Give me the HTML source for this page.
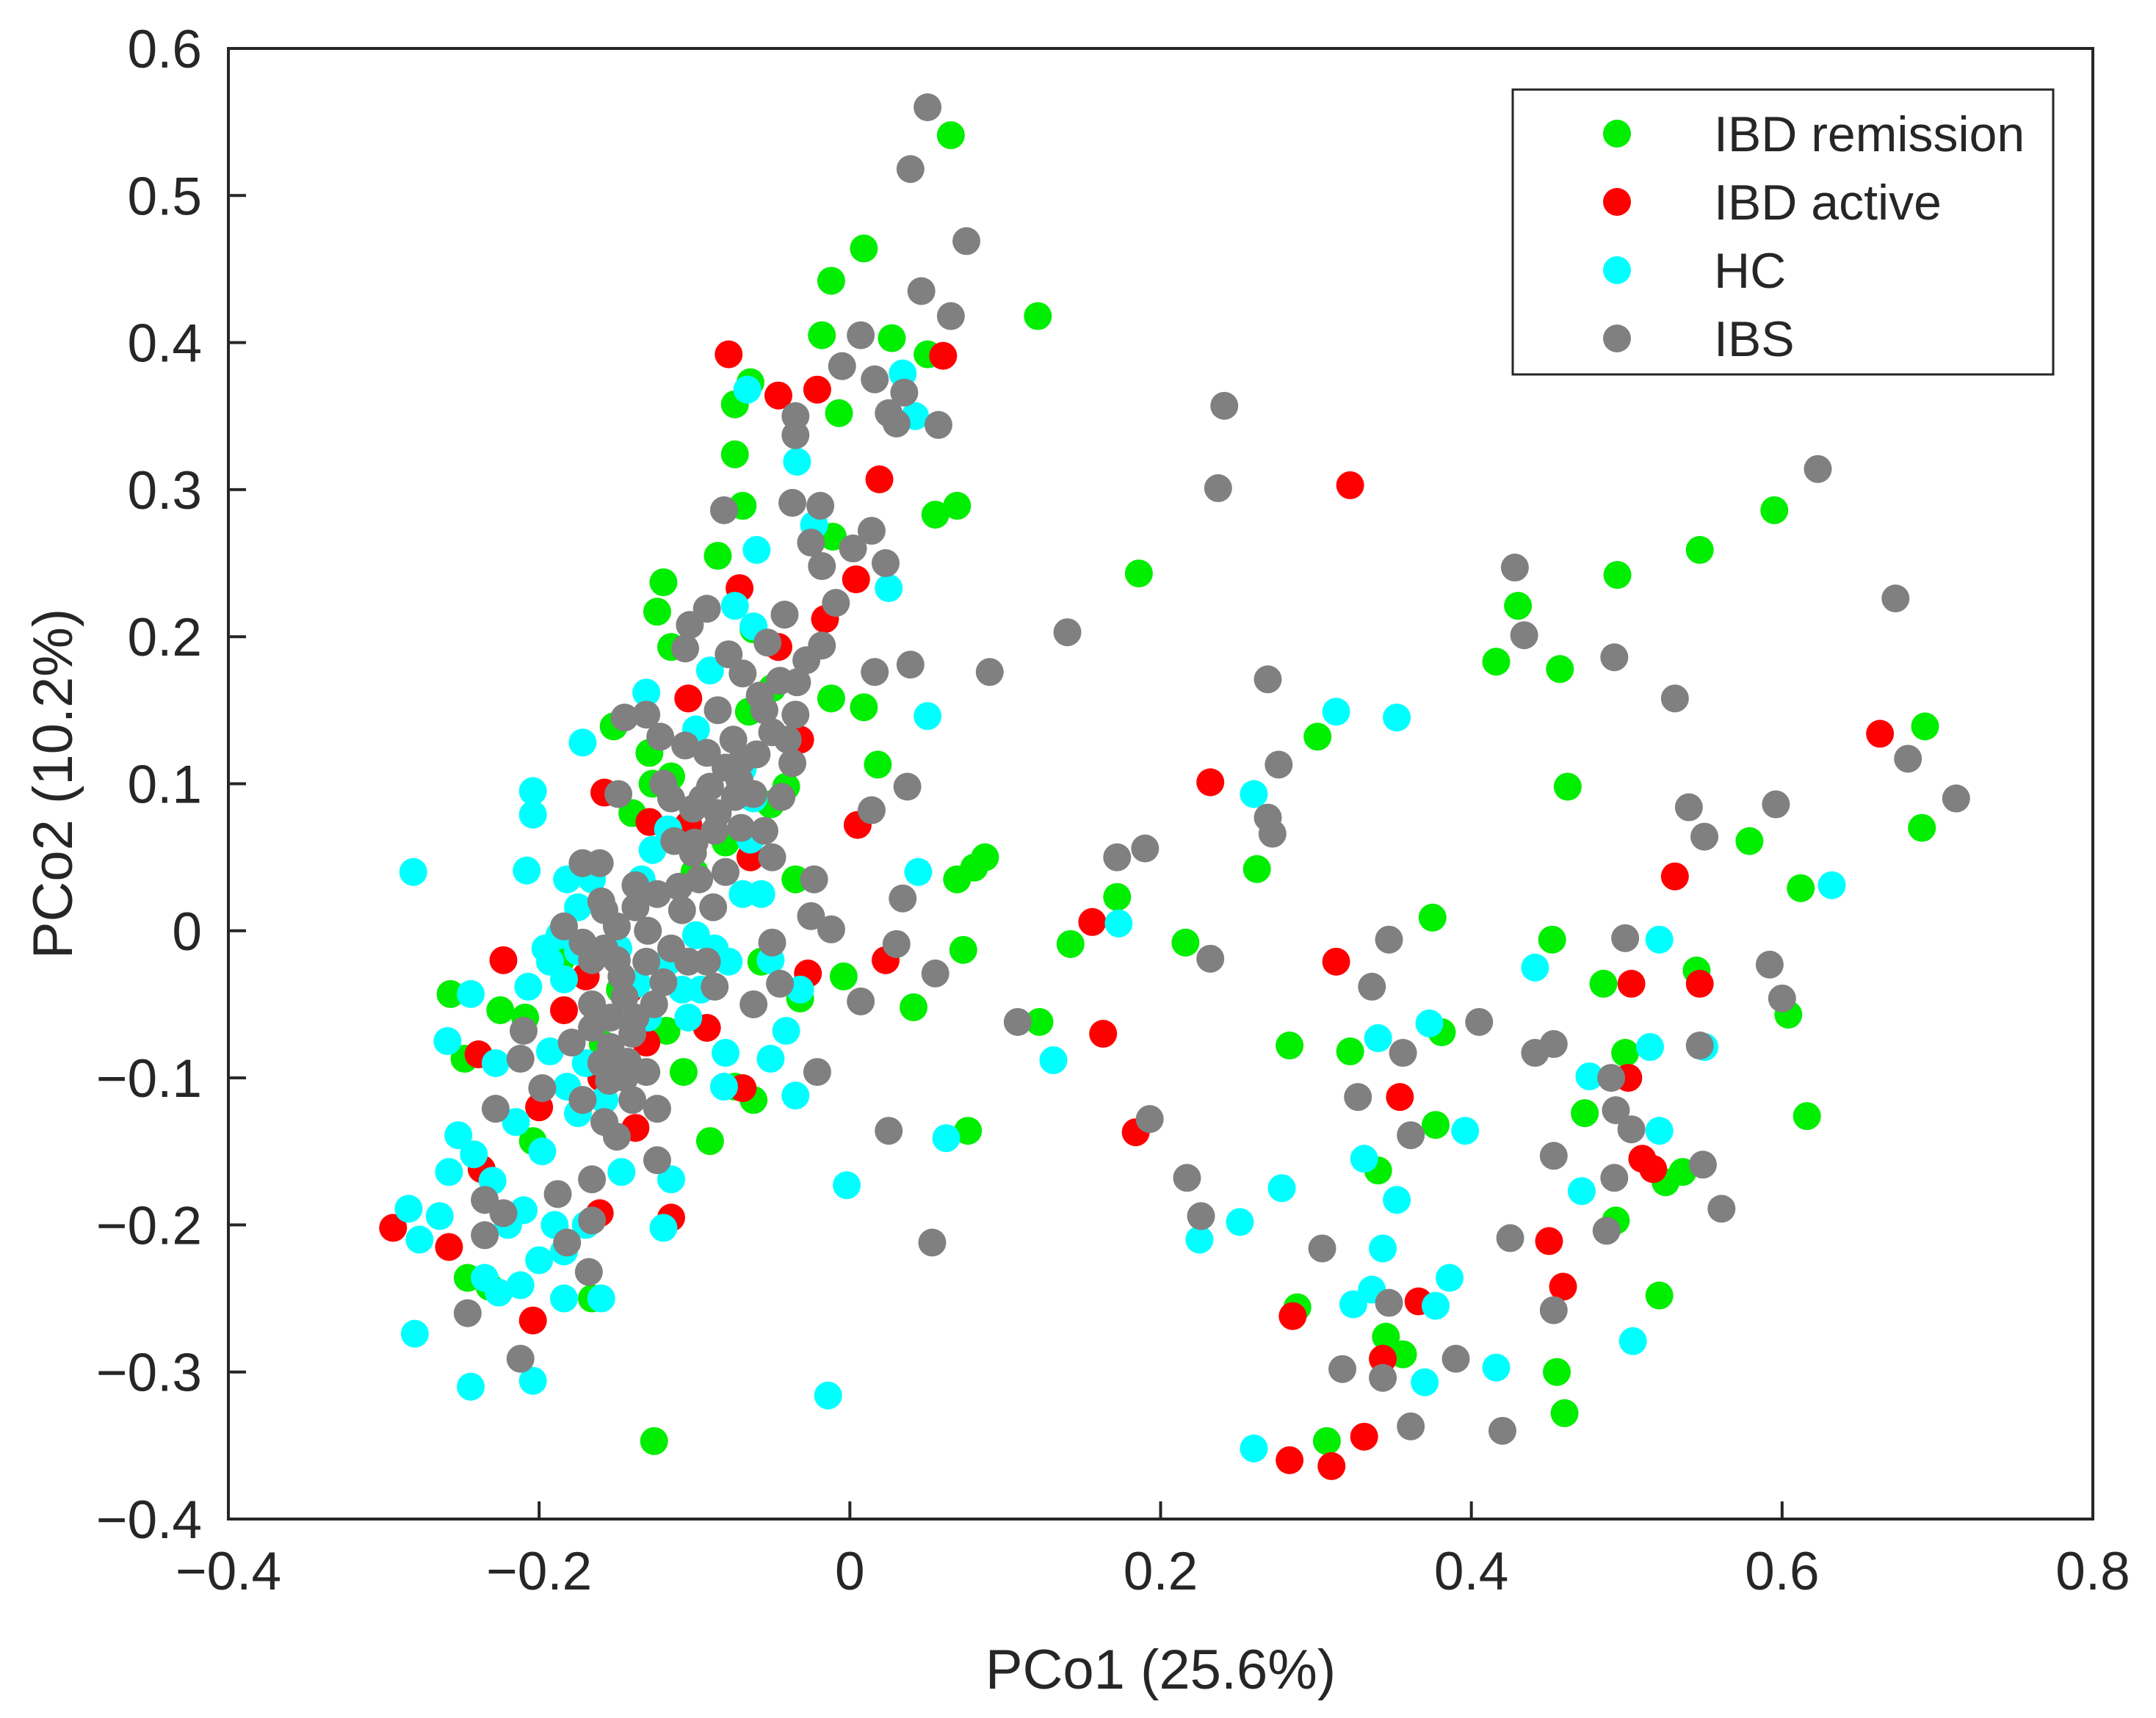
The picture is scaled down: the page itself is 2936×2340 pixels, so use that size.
<!DOCTYPE html>
<html><head><meta charset="utf-8"><style>
html,body{margin:0;padding:0;background:#fff;}
svg{display:block;font-family:"Liberation Sans",Arial,sans-serif;}
</style></head><body>
<svg id="chart" width="2936" height="2340" viewBox="0 0 2936 2340" xmlns="http://www.w3.org/2000/svg">
<rect x="0" y="0" width="2936" height="2340" fill="#fff"/>
<g id="marks"></g>
<g id="axes"></g>
</svg>
<script>
const xTicks = [-0.4,-0.2,0,0.2,0.4,0.6,0.8];
const yTicks = [-0.4,-0.3,-0.2,-0.1,0,0.1,0.2,0.3,0.4,0.5,0.6];
const xTickLabels = ["\u22120.4","\u22120.2","0","0.2","0.4","0.6","0.8"];
const yTickLabels = ["\u22120.4","\u22120.3","\u22120.2","\u22120.1","0","0.1","0.2","0.3","0.4","0.5","0.6"];
const seriesNames = ["IBD remission","IBD active","HC","IBS"];
const seriesColors = ["#00ee00","#ff0000","#00ffff","#808080"];

const remission = [[0.065,0.541],[0.009,0.464],[-0.012,0.442],[-0.018,0.405],[0.027,0.403],[0.05,0.392],[-0.007,0.352],[0.121,0.418],[-0.074,0.358],[-0.064,0.373],[-0.074,0.324],[-0.069,0.289],[0.069,0.289],[0.055,0.283],[-0.085,0.255],[-0.12,0.237],[-0.124,0.217],[-0.011,0.268],[-0.012,0.158],[0.009,0.152],[0.018,0.113],[-0.115,0.193],[0.186,0.243],[0.122,-0.062],[0.142,-0.009],[0.172,0.023],[0.216,-0.008],[0.262,0.042],[0.301,0.132],[0.283,-0.078],[0.087,0.05],[0.08,0.043],[0.069,0.035],[0.073,-0.013],[0.041,-0.052],[-0.004,-0.031],[0.076,-0.136],[-0.09,-0.143],[-0.126,-0.347],[0.375,0.009],[0.381,-0.069],[0.322,-0.082],[0.34,-0.163],[0.377,-0.132],[0.288,-0.256],[0.345,-0.276],[0.356,-0.288],[0.307,-0.347],[0.43,0.221],[0.416,0.183],[0.457,0.178],[0.462,0.098],[0.494,0.242],[0.547,0.259],[0.595,0.286],[0.579,0.061],[0.612,0.029],[0.604,-0.057],[0.616,-0.126],[0.692,0.139],[0.69,0.07],[0.452,-0.006],[0.485,-0.036],[0.499,-0.083],[0.473,-0.124],[0.493,-0.197],[0.545,-0.027],[0.536,-0.164],[0.525,-0.171],[0.521,-0.248],[0.455,-0.3],[0.46,-0.328],[-0.257,-0.043],[-0.248,-0.087],[-0.225,-0.054],[-0.209,-0.059],[-0.204,-0.143],[-0.246,-0.236],[-0.232,-0.242],[-0.166,-0.25],[-0.152,0.139],[-0.129,0.121],[-0.127,0.1],[-0.115,0.105],[-0.062,-0.115],[-0.074,-0.106],[-0.065,0.149],[-0.05,0.165],[-0.041,0.098],[-0.035,0.035],[-0.032,-0.046],[-0.057,-0.021],[-0.148,-0.04],[-0.186,-0.02],[-0.159,-0.077],[-0.118,-0.068],[-0.107,-0.096],[-0.051,0.086],[-0.062,0.205],[-0.14,0.08],[-0.1,0.04],[-0.08,0.06]];

const active = [[-0.078,0.392],[-0.046,0.364],[-0.021,0.368],[0.06,0.391],[0.019,0.307],[-0.071,0.233],[-0.016,0.212],[0.004,0.239],[-0.046,0.193],[-0.032,0.13],[-0.104,0.158],[0.005,0.072],[-0.064,0.05],[-0.092,-0.066],[-0.069,-0.107],[-0.027,-0.029],[0.023,-0.02],[-0.158,0.094],[-0.129,0.074],[-0.104,0.072],[-0.223,-0.02],[-0.239,-0.084],[-0.237,-0.162],[-0.294,-0.202],[-0.258,-0.215],[-0.204,-0.265],[-0.184,-0.054],[-0.161,-0.192],[-0.115,-0.195],[-0.138,-0.134],[0.232,0.101],[0.156,0.006],[0.163,-0.07],[0.184,-0.137],[0.322,0.303],[0.313,-0.021],[0.354,-0.113],[0.285,-0.262],[0.366,-0.252],[0.343,-0.291],[0.331,-0.344],[0.31,-0.364],[0.283,-0.36],[0.45,-0.211],[0.459,-0.242],[0.501,-0.1],[0.503,-0.036],[0.51,-0.155],[0.517,-0.162],[0.531,0.037],[0.547,-0.036],[0.663,0.134],[-0.17,-0.031],[-0.142,-0.04],[-0.131,-0.076],[-0.2,-0.12],[-0.16,-0.1]];

const hc = [[-0.281,0.04],[-0.204,0.095],[-0.204,0.079],[-0.208,0.041],[-0.172,0.128],[-0.131,0.162],[-0.066,0.368],[-0.06,0.259],[-0.034,0.319],[-0.023,0.276],[0.034,0.379],[0.042,0.35],[0.025,0.233],[0.05,0.146],[0.044,0.04],[-0.002,-0.173],[-0.014,-0.316],[0.062,-0.141],[0.131,-0.088],[0.173,0.005],[0.26,0.093],[0.225,-0.21],[0.251,-0.198],[0.278,-0.175],[0.26,-0.352],[0.313,0.149],[0.352,0.145],[0.331,-0.155],[0.324,-0.254],[0.34,-0.073],[0.352,-0.183],[0.343,-0.216],[0.336,-0.244],[0.37,-0.307],[0.373,-0.063],[0.396,-0.136],[0.386,-0.236],[0.377,-0.255],[0.416,-0.297],[0.441,-0.025],[0.476,-0.099],[0.471,-0.177],[0.504,-0.279],[0.515,-0.079],[0.521,-0.006],[0.521,-0.136],[0.55,-0.079],[0.632,0.031],[-0.284,-0.189],[-0.28,-0.274],[-0.277,-0.21],[-0.264,-0.194],[-0.258,-0.164],[-0.252,-0.139],[-0.259,-0.075],[-0.244,-0.043],[-0.244,-0.31],[-0.235,-0.236],[-0.226,-0.246],[-0.204,-0.306],[-0.212,-0.241],[-0.2,-0.224],[-0.184,-0.25],[-0.16,-0.25],[-0.184,-0.218],[-0.207,-0.038],[-0.193,-0.082],[-0.198,-0.15],[-0.242,-0.152],[-0.228,-0.09],[-0.115,-0.169],[-0.12,-0.202],[-0.147,-0.164],[-0.081,-0.106],[-0.08,-0.083],[-0.051,-0.087],[-0.041,-0.068],[-0.035,-0.112],[-0.032,-0.04],[-0.057,0.025],[-0.051,-0.02],[-0.062,0.09],[-0.069,0.11],[-0.099,-0.003],[-0.108,-0.04],[-0.137,-0.036],[-0.149,-0.012],[-0.175,0.016],[-0.187,-0.003],[-0.193,-0.021],[-0.182,-0.106],[-0.175,-0.124],[-0.158,-0.115],[-0.062,0.207],[-0.074,0.221],[-0.09,0.177],[-0.099,0.137],[-0.127,0.055],[-0.134,0.035],[-0.166,0.035],[-0.182,0.035],[-0.175,-0.014],[-0.196,-0.012],[-0.184,-0.033],[-0.17,-0.09],[-0.155,-0.085],[-0.13,-0.059],[-0.117,-0.021],[-0.104,-0.059],[-0.096,-0.04],[-0.087,-0.012],[-0.078,-0.021],[-0.069,0.025],[-0.064,0.062],[-0.117,0.069],[-0.21,-0.19],[-0.22,-0.2],[-0.19,-0.2],[-0.17,-0.2],[-0.23,-0.17],[-0.215,-0.13]];

const ibs = [[0.05,0.56],[0.039,0.518],[0.075,0.469],[0.046,0.435],[0.065,0.418],[0.007,0.405],[-0.005,0.384],[0.016,0.375],[0.035,0.366],[0.025,0.352],[0.03,0.345],[0.057,0.344],[-0.035,0.35],[-0.035,0.337],[-0.037,0.291],[-0.019,0.289],[-0.081,0.286],[-0.025,0.264],[-0.018,0.248],[0.002,0.26],[0.014,0.272],[0.023,0.25],[-0.009,0.223],[-0.042,0.215],[-0.092,0.219],[-0.103,0.208],[-0.106,0.192],[-0.078,0.188],[-0.053,0.196],[-0.018,0.194],[0.016,0.176],[0.039,0.181],[0.09,0.176],[0.14,0.203],[0.241,0.357],[0.237,0.301],[0.269,0.171],[0.276,0.113],[0.269,0.077],[0.272,0.066],[0.19,0.056],[0.172,0.05],[0.037,0.098],[0.014,0.082],[0.034,0.022],[0.03,-0.009],[0.055,-0.029],[0.007,-0.048],[-0.023,0.035],[-0.025,0.01],[-0.012,0.001],[-0.05,-0.008],[-0.062,-0.05],[-0.021,-0.096],[0.025,-0.136],[0.053,-0.212],[0.108,-0.062],[0.193,-0.128],[0.217,-0.168],[0.226,-0.194],[0.232,-0.019],[0.304,-0.216],[0.317,-0.298],[0.327,-0.113],[0.336,-0.038],[0.347,-0.006],[0.356,-0.083],[0.361,-0.139],[0.347,-0.253],[0.343,-0.304],[0.361,-0.337],[0.39,-0.291],[0.405,-0.062],[0.42,-0.34],[0.425,-0.209],[0.428,0.247],[0.434,0.201],[0.441,-0.083],[0.453,-0.077],[0.453,-0.153],[0.453,-0.258],[0.492,0.186],[0.49,-0.1],[0.493,-0.122],[0.503,-0.135],[0.492,-0.168],[0.487,-0.204],[0.499,-0.005],[0.531,0.158],[0.54,0.084],[0.55,0.064],[0.547,-0.078],[0.549,-0.159],[0.561,-0.189],[0.592,-0.023],[0.6,-0.046],[0.596,0.086],[0.623,0.314],[0.673,0.226],[0.681,0.117],[0.712,0.09],[-0.246,-0.26],[-0.212,-0.291],[-0.235,-0.183],[-0.235,-0.207],[-0.223,-0.192],[-0.228,-0.121],[-0.212,-0.087],[-0.21,-0.068],[-0.198,-0.107],[-0.188,-0.179],[-0.182,-0.212],[-0.166,-0.197],[-0.168,-0.232],[-0.166,-0.169],[-0.158,-0.13],[-0.124,-0.156],[-0.124,-0.121],[-0.131,-0.096],[-0.184,0.003],[-0.172,0.046],[-0.161,0.046],[-0.149,0.093],[-0.145,0.145],[-0.131,0.147],[-0.122,0.132],[-0.106,0.126],[-0.092,0.121],[-0.08,0.111],[-0.071,0.102],[-0.062,0.093],[-0.044,0.091],[-0.037,0.114],[-0.035,0.147],[-0.034,0.169],[-0.028,0.184],[-0.085,0.15],[-0.069,0.175],[-0.058,0.16],[-0.055,0.068],[-0.087,0.068],[-0.101,0.053],[-0.113,0.061],[-0.097,0.035],[-0.088,0.016],[-0.108,0.014],[-0.124,0.025],[-0.138,0.016],[-0.15,0.003],[-0.158,-0.012],[-0.166,-0.02],[-0.147,-0.031],[-0.131,-0.021],[-0.115,-0.012],[-0.104,-0.021],[-0.092,-0.021],[-0.087,-0.038],[-0.154,-0.059],[-0.166,-0.066],[-0.179,-0.076],[-0.154,-0.079],[-0.143,-0.089],[-0.155,-0.102],[-0.172,-0.115],[-0.14,-0.115],[-0.166,-0.05],[-0.138,-0.059],[-0.126,-0.05],[-0.101,0.083],[-0.09,0.098],[-0.138,0.031],[-0.158,0.014],[-0.172,-0.008],[-0.074,0.091],[-0.05,0.05],[-0.045,-0.036],[-0.075,0.13],[-0.06,0.12],[-0.05,0.135],[-0.04,0.13],[-0.095,0.09],[-0.115,0.09],[-0.08,0.04],[-0.07,0.07],[-0.12,-0.035],[-0.145,-0.045],[-0.16,-0.09],[-0.15,-0.14],[-0.14,-0.07],[-0.15,-0.02],[-0.13,0.0],[-0.11,0.03],[-0.1,0.06],[-0.085,0.08],[-0.07,0.115],[-0.055,0.15],[-0.045,0.17],[-0.12,0.1],[-0.16,0.02],[-0.145,-0.1]];

const allSeries = [remission, active, hc, ibs];

const L=311, R=2850, T=66, B=2069;
const xMin=-0.4, xMax=0.8, yMin=-0.4, yMax=0.6;
const sx = v => L + (v - xMin) / (xMax - xMin) * (R - L);
const sy = v => B - (v - yMin) / (yMax - yMin) * (B - T);
const NS = "http://www.w3.org/2000/svg";
const marks = document.getElementById('marks');
const axes = document.getElementById('axes');
const slugs = ["ibd-remission","ibd-active","hc","ibs"];

allSeries.forEach((pts, si) => {
  const g = document.createElementNS(NS, 'g');
  
  
  pts.forEach(p => {
    const c = document.createElementNS(NS, 'circle');
    c.setAttribute('cx', sx(p[0]));
    c.setAttribute('cy', sy(p[1]));
    c.setAttribute('r', 19);
    c.setAttribute('fill', seriesColors[si]);
    
    
    g.appendChild(c);
  });
  marks.appendChild(g);
});

function el(tag, attrs, text) {
  const e = document.createElementNS(NS, tag);
  for (const k in attrs) e.setAttribute(k, attrs[k]);
  if (text !== undefined) e.textContent = text;
  return e;
}

const frame = el('rect', {x:L, y:T, width:R-L, height:B-T, fill:'none', stroke:'#262626', 'stroke-width':4});


axes.appendChild(frame);

xTicks.forEach((v, i) => {
  const x = sx(v);
  const t = el('line', {x1:x, x2:x, y1:B, y2:B-24, stroke:'#262626', 'stroke-width':4});
  
  
  axes.appendChild(t);
  const lb = el('text', {x:x, y:B+96, 'font-size':73, 'text-anchor':'middle', fill:'#262626'}, xTickLabels[i]);
  
  
  axes.appendChild(lb);
});
yTicks.forEach((v, i) => {
  const y = sy(v);
  const t = el('line', {x1:L, x2:L+24, y1:y, y2:y, stroke:'#262626', 'stroke-width':4});
  
  
  axes.appendChild(t);
  const lb = el('text', {x:L-36, y:y+26, 'font-size':73, 'text-anchor':'end', fill:'#262626'}, yTickLabels[i]);
  
  
  axes.appendChild(lb);
});

const xt = el('text', {x:(L+R)/2, y:2300, 'font-size':76, 'text-anchor':'middle', fill:'#262626'}, 'PCo1 (25.6%)');


axes.appendChild(xt);
const yt = el('text', {x:0, y:0, 'font-size':76, 'text-anchor':'middle', fill:'#262626', transform:'translate(98,'+((T+B)/2)+') rotate(-90)'}, 'PCo2 (10.2%)');


axes.appendChild(yt);

const lg = el('g', {});


const lbox = el('rect', {x:2060, y:122, width:736, height:388, fill:'#fff', stroke:'#262626', 'stroke-width':3});


lg.appendChild(lbox);
seriesNames.forEach((n, i) => {
  const cy = 182 + i * 93;
  const ge = el('g', {});
  
  
  const m = el('circle', {cx:2202, cy:cy, r:19, fill:seriesColors[i]});
  
  
  ge.appendChild(m);
  const tx = el('text', {x:2334, y:cy+24, 'font-size':68, fill:'#262626'}, n);
  
  
  ge.appendChild(tx);
  lg.appendChild(ge);
});
axes.appendChild(lg);
</script>
</body></html>
